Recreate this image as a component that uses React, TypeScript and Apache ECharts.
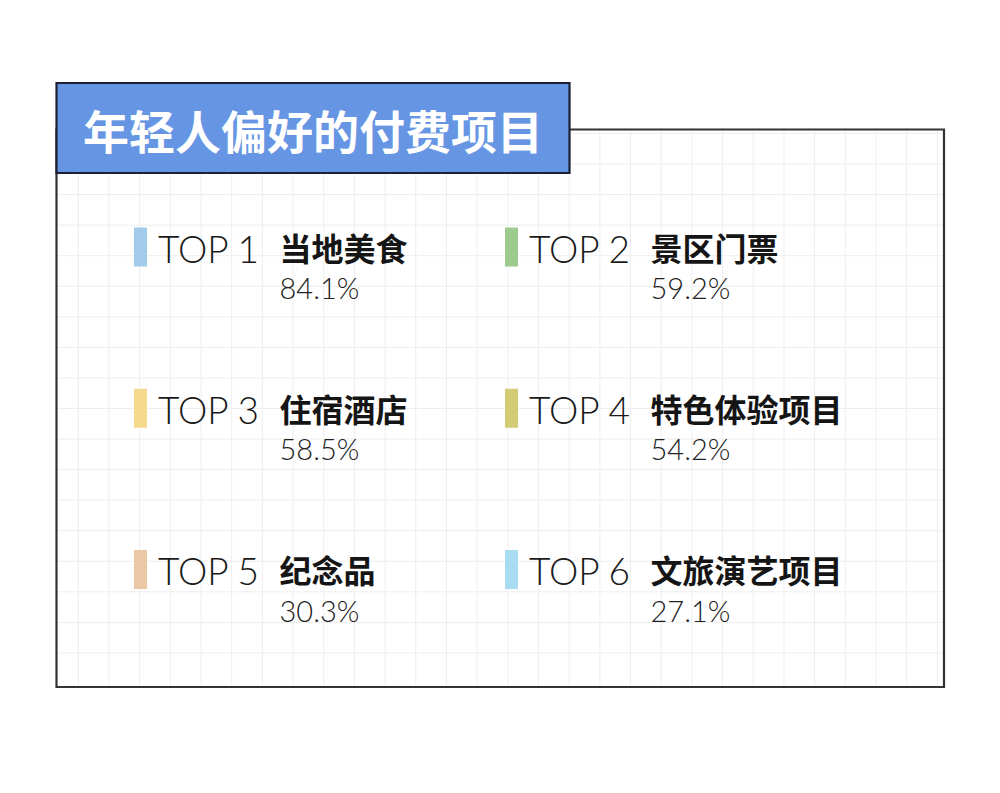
import React, { useEffect, useRef } from "react";
import * as echarts from "echarts";

const titleText = "年轻人偏好的付费项目";
const ranks = ["TOP 1", "TOP 2", "TOP 3", "TOP 4", "TOP 5", "TOP 6"];
const names = ["当地美食", "景区门票", "住宿酒店", "特色体验项目", "纪念品", "文旅演艺项目"];
const values = [84.1, 59.2, 58.5, 54.2, 30.3, 27.1];
const colors = ["#A2CAE9", "#9DCB8D", "#F5DA8D", "#D3CC76", "#EBC8A5", "#A8DCF0"];
const columns = ["左", "右"];
const rows = ["一", "二", "三"];

export default function App() {
  const ref = useRef<HTMLDivElement>(null);

  useEffect(() => {
    if (!ref.current) return;
    const chart = echarts.init(ref.current, null, { renderer: "svg" });

    // background grid pattern
    const bg: any[] = [];
    const gx0 = 78.3, gdx = 30.68, gy0 = 164, gdy = 30.56;
    for (let k = 0; k <= 28; k++) {
      const x = gx0 + gdx * k;
      bg.push({
        type: "line",
        z: 0,
        silent: true,
        shape: { x1: x, y1: 130, x2: x, y2: 686 },
        style: { stroke: "#EEEEEE", lineWidth: 1 },
      });
    }
    for (let k = -1; k <= 16; k++) {
      const y = gy0 + gdy * k;
      bg.push({
        type: "line",
        z: 0,
        silent: true,
        shape: { x1: 57, y1: y, x2: 943, y2: y },
        style: { stroke: "#EEEEEE", lineWidth: 1 },
      });
    }

    const data = values.map((v, i) => [i % 2, Math.floor(i / 2), v]);

    chart.setOption({
      animation: false,
      backgroundColor: "#ffffff",
      grid: { left: 134, top: 166.4, width: 742, height: 483.75 },
      xAxis: {
        type: "category",
        data: columns,
        show: false,
      },
      yAxis: {
        type: "category",
        data: rows,
        inverse: true,
        show: false,
      },
      graphic: [
        ...bg,
        {
          type: "rect",
          z: 5,
          silent: true,
          shape: { x: 56.5, y: 129.5, width: 887.5, height: 557.5 },
          style: { fill: "none", stroke: "#333333", lineWidth: 2.2 },
        },
        {
          type: "rect",
          z: 10,
          silent: true,
          shape: { x: 56.5, y: 83, width: 513, height: 90 },
          style: { fill: "#6595E3", stroke: "#1c2035", lineWidth: 2.2 },
        },
        {
          type: "text",
          z: 11,
          silent: true,
          x: 313,
          y: 129,
          style: {
            text: titleText,
            fill: "#ffffff",
            fontSize: 46,
            fontWeight: "bold",
            fontFamily: "Noto Sans CJK SC",
            align: "center",
            verticalAlign: "middle",
          },
        },
      ],
      series: [
        {
          type: "custom",
          z: 20,
          data,
          renderItem: (params: any, api: any) => {
            const i = params.dataIndex;
            const pt = api.coord([api.value(0), api.value(1)]);
            const size = api.size([1, 1]);
            const L = pt[0] - size[0] / 2;
            const C = pt[1];
            const val = api.value(2);
            return {
              type: "group",
              children: [
                {
                  type: "rect",
                  shape: { x: L, y: C - 19.5, width: 13, height: 39 },
                  style: { fill: colors[i] },
                },
                {
                  type: "text",
                  style: {
                    text: ranks[i],
                    x: L + 24,
                    y: C + 1,
                    fill: "#1a1a1a",
                    fontSize: 37,
                    fontWeight: 300,
                    fontFamily: "Lato",
                    align: "left",
                    verticalAlign: "middle",
                  },
                },
                {
                  type: "text",
                  style: {
                    text: names[i],
                    x: L + 145.5,
                    y: C - 0.5,
                    fill: "#151515",
                    fontSize: 32,
                    fontWeight: "bold",
                    fontFamily: "Noto Sans CJK SC",
                    align: "left",
                    verticalAlign: "middle",
                  },
                },
                {
                  type: "text",
                  style: {
                    text: val.toFixed(1) + "%",
                    x: L + 145.5,
                    y: C + 40.5,
                    fill: "#222222",
                    fontSize: 29,
                    fontWeight: 300,
                    fontFamily: "Lato",
                    align: "left",
                    verticalAlign: "middle",
                  },
                },
              ],
            };
          },
        },
      ],
    });

    return () => chart.dispose();
  }, []);

  return (
    <div
      ref={ref}
      style={{ position: "fixed", left: 0, top: 0, width: 1000, height: 793 }}
    />
  );
}
